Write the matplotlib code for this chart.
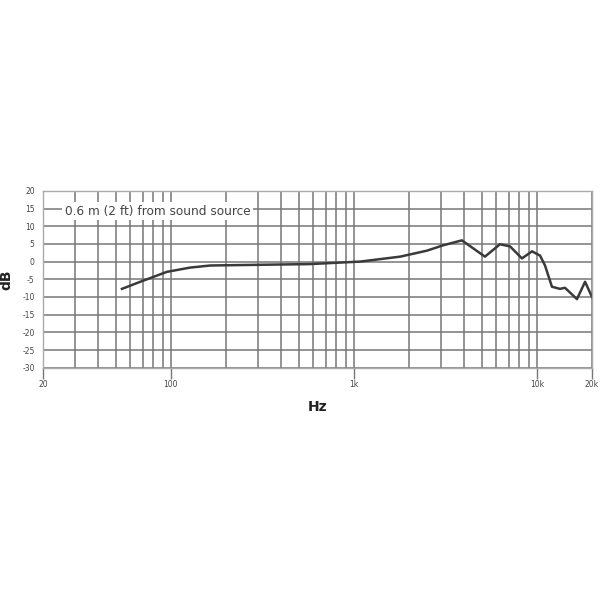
import matplotlib
matplotlib.use('Agg')
import matplotlib.pyplot as plt
from matplotlib.ticker import FixedLocator, NullFormatter

# dados
freq_hz = [54, 68, 95, 127, 164, 307, 575, 1080, 1790, 2510, 3070, 3890,
           5200, 6280, 7130, 8280, 9400, 10400, 11070, 12080, 13360, 14230,
           16550, 18320, 20000]
resp_db = [-7.7, -5.7, -2.9, -1.7, -1.1, -0.9, -0.7, 0.0, 1.4, 3.1, 4.6, 6.0,
           1.4, 4.9, 4.3, 0.9, 2.9, 1.7, -1.1, -7.1, -7.7, -7.4,
           -10.6, -5.7, -10.0]

x_ticks = [20, 100, 1000, 10000, 20000]
x_labels = ['20', '100', '1k', '10k', '20k']
y_ticks = [20, 15, 10, 5, 0, -5, -10, -15, -20, -25, -30]
y_labels = ['20', '15', '10', '5', '0', '-5', '-10', '-15', '-20', '-25', '-30']
x_minor = [m * d for d in (10, 100, 1000) for m in range(2, 10) if 20 < m * d < 20000]

legend_text = '0.6 m (2 ft) from sound source'

GRID = '#777777'

fig = plt.figure(figsize=(6, 6), dpi=100)
ax = fig.add_axes([0.0717, 0.387, 0.915, 0.295])

ax.plot(freq_hz, resp_db, color='#3a3a3a', lw=1.8, solid_joinstyle='round')

ax.set_xscale('log')
ax.set_xlim(20, 20000)
ax.set_ylim(-30, 20)

ax.xaxis.set_major_locator(FixedLocator(x_ticks))
ax.xaxis.set_minor_locator(FixedLocator(x_minor))
ax.xaxis.set_minor_formatter(NullFormatter())
ax.set_xticklabels(x_labels)
ax.set_yticks(y_ticks)
ax.set_yticklabels(y_labels)

ax.grid(True, which='major', color=GRID, lw=1.1)
ax.grid(True, which='minor', axis='x', color=GRID, lw=1.1)

ax.tick_params(axis='x', which='major', length=8, width=1, color=GRID,
               labelsize=5.5, labelcolor='#444444', pad=1)
ax.tick_params(axis='x', which='minor', length=0)
ax.tick_params(axis='y', length=0, labelsize=5.5, labelcolor='#444444', pad=6)

for s in ax.spines.values():
    s.set_color('#aaaaaa')
    s.set_linewidth(1.0)

ax.text(0.04, 0.885, legend_text, transform=ax.transAxes, fontsize=8.7,
        color='#444444', va='center', ha='left',
        bbox=dict(facecolor='white', edgecolor='none', pad=2.0))

ax.set_xlabel('Hz', fontsize=10, fontweight='bold', color='#222222', labelpad=8)
ax.set_ylabel('dB', fontsize=10, fontweight='bold', color='#222222', labelpad=6)

fig.savefig('out.png', dpi=100, facecolor='white')
